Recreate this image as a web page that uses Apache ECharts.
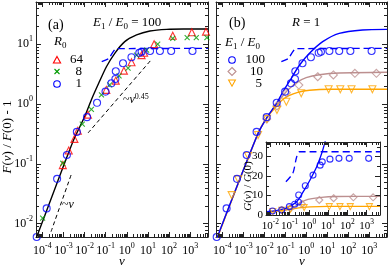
<!DOCTYPE html>
<html><head><meta charset="utf-8">
<script src="https://cdn.jsdelivr.net/npm/echarts@6/dist/echarts.min.js"></script>
<style>html,body{margin:0;padding:0;background:#fff}#c{width:390px;height:268px}</style>
</head><body><div id="c"></div>
<script>
// ---------------- tick labels ----------------
const xExponents = [-4, -3, -2, -1, 0, 1, 2, 3];
const yExponents = [-2, -1, 0, 1];
const insetXExponents = [-2, -1, 0, 1, 2, 3];
const insetYTicks = [0, 10, 20, 30];

// ---------------- panel (a) ----------------
// R0 = 1 (blue circles)  -- also E1/E0 = 100 in panel (b)
const nuCircle = [5.4e-5, 1.6e-4, 5.0e-4, 1.45e-3, 4.3e-3, 0.013, 0.039, 0.098, 0.186, 0.288, 0.30, 0.66, 1.66, 3.9, 5.0, 12.6, 37, 126, 1290];
const fCircle  = [0.006, 0.018, 0.056, 0.14, 0.34, 0.60, 1.04, 1.6, 2.2, 2.6, 3.5, 4.75, 6.0, 7.1, 7.4, 7.6, 7.6, 7.6, 7.6];
// R0 = 64 (red triangles)
const nuTri64 = [9.3e-4, 1.78e-3, 3.3e-3, 4.8e-3, 0.0145, 0.107, 0.30, 0.73, 1.67, 5.0, 6.6, 19.6, 150, 1200, 5600];
const fTri64  = [0.095, 0.166, 0.26, 0.355, 0.66, 1.71, 2.44, 3.58, 4.94, 6.5, 7.1, 9.9, 13.7, 15.6, 16.0];
// R0 = 8 (green crosses)
const nuX8 = [1.03e-4, 9.3e-4, 7.8e-3, 0.021, 0.063, 0.155, 0.43, 1.15, 2.9, 8.7, 29, 150, 720, 1950, 6200];
const fX8  = [0.0124, 0.102, 0.46, 0.81, 1.41, 2.07, 2.92, 3.93, 6.5, 7.9, 9.9, 12.4, 12.7, 12.7, 12.7];
// black solid curve
const nuCurveA = [5.2e-5, 1e-4, 3.16e-4, 1e-3, 3.16e-3, 0.01, 0.0208, 0.0465, 0.108, 0.269, 0.80, 2.9, 12.4, 77.6, 480, 7000];
const fCurveA  = [0.0058, 0.0107, 0.0313, 0.0918, 0.259, 0.61, 1.16, 2.20, 4.16, 6.97, 10.9, 14.1, 16.4, 17.5, 17.7, 17.7];
// blue dashed curve (both panels)
const nuDash = [0.0648, 0.148, 0.16, 0.276, 0.333, 7000];
const fDash  = [5.05, 5.75, 6.11, 8.13, 8.32, 8.43];
// guide lines
const nuGuide045 = [0.0145, 15.6];
const fGuide045  = [0.326, 5.62];
const nuGuide1 = [2.57e-4, 2.45e-3];
const fGuide1  = [0.00735, 0.0693];

// ---------------- panel (b) ----------------
const nuCurve100 = [5.6e-5, 5.05e-3, 0.0135, 0.040, 0.077, 0.193, 0.477, 1.42, 6.05, 37, 475, 7000];
const fCurve100  = [0.0058, 0.322, 0.596, 1.045, 1.59, 2.67, 4.45, 6.97, 10.9, 15.0, 17.1, 17.5];
const nuCurve10 = [5.6e-5, 5.05e-3, 0.0126, 0.0312, 0.0648, 0.133, 0.333, 0.99, 4.23, 37.5, 7000];
const fCurve10  = [0.0058, 0.322, 0.573, 0.895, 1.265, 1.70, 2.25, 2.73, 3.06, 3.27, 3.36];
const nuCurve5 = [5.8e-5, 5.05e-3, 0.0135, 0.0348, 0.0648, 0.148, 0.395, 1.42, 12.6, 7000];
const fCurve5  = [0.0058, 0.322, 0.596, 0.875, 1.127, 1.365, 1.556, 1.683, 1.746, 1.746];
const nuDiam10 = [0.013, 0.040, 0.112, 0.442, 3.51, 19.5, 207, 2190];
const fDiam10  = [0.56, 0.92, 1.53, 2.06, 2.83, 3.03, 3.23, 3.23];
const nuTri5 = [2.77e-4, 5.69e-4, 1.69e-3, 5.05e-3, 0.0135, 0.040, 0.112, 0.574, 11.6, 41.7, 143, 1410];
const fTri5  = [0.030, 0.055, 0.135, 0.302, 0.56, 0.789, 1.084, 1.50, 1.746, 1.746, 1.746, 1.746];

// ---------------- inset G(v)/G(0) ----------------
const nuInCircle = [0.013, 0.039, 0.098, 0.186, 0.288, 0.30, 0.66, 1.66, 3.9, 5.0, 12.6, 37, 126, 1290];
const gInCircle  = [2.05, 2.6, 4.3, 5.5, 6.7, 10.3, 15.0, 20.5, 25.6, 27.3, 28.7, 29.1, 29.1, 29.1];
const nuInDiam = [0.040, 0.112, 0.442, 3.51, 19.5, 207, 2190];
const gInDiam  = [2.5, 3.5, 5.65, 7.7, 8.6, 9.1, 9.1];
const nuInTri = [0.0135, 0.040, 0.112, 0.574, 11.6, 41.7, 143, 1410];
const gInTri  = [1.8, 2.4, 2.9, 3.8, 4.3, 4.3, 4.3, 4.3];
const nuInCurve100 = [0.006, 0.02, 0.0713, 0.236, 0.52, 1.16, 2.58, 4.7, 7.0, 9.0];
const gInCurve100  = [1.7, 2.3, 3.7, 6.8, 12.0, 18.0, 24.8, 31.7, 37.6, 42];
const nuInCurve10 = [0.006, 0.03, 0.1, 0.2, 0.35, 0.9, 4.5, 30, 5000];
const gInCurve10  = [1.4, 2.1, 3.2, 4.5, 6.2, 8.0, 9.1, 9.5, 9.6];
const nuInCurve5 = [0.006, 0.02, 0.06, 0.15, 0.4, 1.2, 10, 5000];
const gInCurve5  = [1.5, 2.0, 2.6, 3.2, 3.8, 4.2, 4.4, 4.4];
const nuInDash = [0.0648, 0.148, 0.236, 0.333, 5000];
const gInDash  = [17.1, 21.4, 29.9, 32.5, 32.5];

// ---------------- helpers ----------------
const zip = (a, b) => a.map((v, i) => [v, b[i]]);
const SERIF = 'Liberation Serif';
const BLUE = '#0000ff', RED = '#ff0000', GREEN = '#009a00', ROSY = '#bc8f8f', ORANGE = '#ffa500', AX = '#222';

function powFmt(exps) {
  return function (v) {
    const l = Math.log10(v), r = Math.round(l);
    if (Math.abs(l - r) > 1e-6 || exps.indexOf(r) < 0) return '';
    return '{b|10}{s|' + r + '}';
  };
}
function powRich(base, sup) {
  return {
    b: { fontFamily: SERIF, fontSize: base, lineHeight: base + 5, color: '#000' },
    s: { fontFamily: SERIF, fontSize: sup, lineHeight: sup, verticalAlign: 'top', color: '#000' }
  };
}
function logAxis(grid, pos, min, max, labels, exps, extra) {
  return Object.assign({
    gridIndex: grid, type: 'log', position: pos, min: min, max: max, logBase: 10,
    axisLine: { show: true, onZero: false, lineStyle: { color: AX, width: 1 } },
    axisTick: { show: true, inside: true, length: 5, lineStyle: { color: AX, width: 1 } },
    minorTick: { show: false }, splitLine: { show: false },
    axisLabel: labels ? { show: true, formatter: powFmt(exps), rich: powRich(labels[0], labels[1]), margin: labels[2], color: '#000' } : { show: false }
  }, extra || {});
}
function minorValues(min, max) {
  const out = [];
  for (let k = Math.floor(Math.log10(min)) - 1; k <= Math.ceil(Math.log10(max)); k++) {
    for (let m = 2; m <= 9; m++) {
      const v = m * Math.pow(10, k);
      if (v > min * 1.0001 && v < max * 0.9999) out.push(v);
    }
  }
  return out;
}
function minorTicks(xi, yi, xmin, xmax, ymin, ymax, doY, len) {
  const data = minorValues(xmin, xmax).map(v => [v, ymin, 0]);
  if (doY) minorValues(ymin, ymax).forEach(v => data.push([xmin, v, 1]));
  return {
    type: 'custom', xAxisIndex: xi, yAxisIndex: yi, silent: true, z: 20, animation: false,
    encode: { x: 0, y: 1 }, data: data,
    renderItem: function (params, api) {
      const cs = params.coordSys;
      const p = api.coord([api.value(0), api.value(1)]);
      const st = { stroke: AX, lineWidth: 1 };
      if (api.value(2) === 0) {
        const x = Math.round(p[0]) + 0.5, b = cs.y + cs.height, t = cs.y;
        return { type: 'group', children: [
          { type: 'line', shape: { x1: x, y1: b, x2: x, y2: b - len }, style: st },
          { type: 'line', shape: { x1: x, y1: t, x2: x, y2: t + len }, style: st }] };
      } else {
        const y = Math.round(p[1]) + 0.5, l = cs.x, r = cs.x + cs.width;
        return { type: 'group', children: [
          { type: 'line', shape: { x1: l, y1: y, x2: l + len, y2: y }, style: st },
          { type: 'line', shape: { x1: r, y1: y, x2: r - len, y2: y }, style: st }] };
      }
    }
  };
}
function line(xi, yi, nu, val, color, width, dash, z) {
  return { type: 'line', xAxisIndex: xi, yAxisIndex: yi, data: zip(nu, val), showSymbol: false, symbol: 'none',
    smooth: 0.25, silent: true, z: z || 2,
    lineStyle: { color: color, width: width, type: dash || 'solid' } };
}
function scat(xi, yi, nu, val, color, symbol, size, rotate) {
  return { type: 'scatter', xAxisIndex: xi, yAxisIndex: yi, data: zip(nu, val), symbol: symbol, symbolSize: size,
    symbolRotate: rotate || 0, silent: true, z: 5,
    itemStyle: { color: 'rgba(0,0,0,0)', borderColor: color, borderWidth: 1.1 } };
}
const CROSS = 'path://M0,0L10,10M0,10L10,0';

function txt(x, y, text, align, rich, size, rot) {
  return { type: 'text', x: x, y: y, rotation: rot || 0, silent: true, z: 30,
    style: { text: text, align: align || 'left', textAlign: align || 'left', verticalAlign: 'middle', textVerticalAlign: 'middle',
      font: (size || 13) + 'px "' + SERIF + '"', fill: '#000', rich: rich || {} } };
}
function richSet(sz) {
  return {
    i: { fontFamily: SERIF, fontStyle: 'italic', fontSize: sz, lineHeight: sz + 3, color: '#000' },
    n: { fontFamily: SERIF, fontSize: sz, lineHeight: sz + 3, color: '#000' },
    d: { fontFamily: SERIF, fontSize: Math.round(sz * 0.7), lineHeight: 8, verticalAlign: 'bottom', color: '#000' },
    u: { fontFamily: SERIF, fontSize: Math.round(sz * 0.68), lineHeight: 7, verticalAlign: 'top', color: '#000' }
  };
}
const R13 = richSet(13), R12 = richSet(12), R11 = richSet(11);

const XMIN = 5e-5, XMAX = 7000, YMIN = 0.006, YMAX = 50, IXMIN = 0.006, IXMAX = 5000, IYMAX = 37.5;

const option = {
  animation: false,
  backgroundColor: '#fff',
  grid: [
    { left: 36, top: 2, width: 172, height: 235, outerBoundsMode: 'none', containLabel: false },
    { left: 216, top: 2, width: 171, height: 235, outerBoundsMode: 'none', containLabel: false },
    { left: 266, top: 142, width: 114, height: 73, outerBoundsMode: 'none', containLabel: false, show: true, backgroundColor: '#fff', borderWidth: 0, z: 3 }
  ],
  xAxis: [
    logAxis(0, 'bottom', XMIN, XMAX, [12, 8, 5], xExponents),
    logAxis(0, 'top', XMIN, XMAX, null),
    logAxis(1, 'bottom', XMIN, XMAX, [12, 8, 5], xExponents),
    logAxis(1, 'top', XMIN, XMAX, null),
    logAxis(2, 'bottom', IXMIN, IXMAX, [11, 7.5, 3], insetXExponents, { z: 6 }),
    logAxis(2, 'top', IXMIN, IXMAX, null, null, { z: 6 })
  ],
  yAxis: [
    logAxis(0, 'left', YMIN, YMAX, [12, 8, 3], yExponents),
    logAxis(0, 'right', YMIN, YMAX, null),
    logAxis(1, 'left', YMIN, YMAX, null),
    logAxis(1, 'right', YMIN, YMAX, null),
    { gridIndex: 2, type: 'value', position: 'left', min: 0, max: IYMAX, interval: 10, z: 6,
      axisLine: { show: true, lineStyle: { color: AX, width: 1 } },
      axisTick: { show: true, inside: true, length: 5, lineStyle: { color: AX } },
      minorTick: { show: true, splitNumber: 2, length: 3, lineStyle: { color: AX } },
      splitLine: { show: false },
      axisLabel: { show: true, margin: 3, fontFamily: SERIF, fontSize: 11, color: '#000',
        formatter: v => (insetYTicks.indexOf(v) >= 0 ? String(v) : '') } },
    { gridIndex: 2, type: 'value', position: 'right', min: 0, max: IYMAX, interval: 10, z: 6,
      axisLine: { show: true, lineStyle: { color: AX, width: 1 } },
      axisTick: { show: true, inside: true, length: 5, lineStyle: { color: AX } },
      minorTick: { show: true, splitNumber: 2, length: 3, lineStyle: { color: AX } },
      splitLine: { show: false }, axisLabel: { show: false } }
  ],
  series: [
    // panel (a)
    line(0, 0, nuCurveA, fCurveA, '#000', 1.4),
    line(0, 0, nuGuide045, fGuide045, '#000', 1, [4, 3]),
    line(0, 0, nuGuide1, fGuide1, '#000', 1, [4, 3]),
    line(0, 0, nuDash, fDash, BLUE, 1.4, [7, 4]),
    scat(0, 0, nuTri64, fTri64, RED, 'triangle', 7),
    scat(0, 0, nuX8, fX8, GREEN, CROSS, 5),
    scat(0, 0, nuCircle, fCircle, BLUE, 'circle', 7),
    // panel (b)
    line(2, 2, nuCurve10, fCurve10, ROSY, 1.4),
    line(2, 2, nuCurve5, fCurve5, ORANGE, 1.4),
    line(2, 2, nuCurve100, fCurve100, BLUE, 1.4),
    line(2, 2, nuDash, fDash, BLUE, 1.4, [7, 4]),
    scat(2, 2, nuDiam10, fDiam10, ROSY, 'diamond', 8),
    scat(2, 2, nuTri5, fTri5, ORANGE, 'triangle', 7, 180),
    scat(2, 2, nuCircle, fCircle, BLUE, 'circle', 7),
    // inset
    line(4, 4, nuInCurve10, gInCurve10, ROSY, 1.3, null, 4),
    line(4, 4, nuInCurve5, gInCurve5, ORANGE, 1.3, null, 4),
    line(4, 4, nuInCurve100, gInCurve100, BLUE, 1.3, null, 4),
    line(4, 4, nuInDash, gInDash, BLUE, 1.3, [7, 4], 4),
    Object.assign(scat(4, 4, nuInDiam, gInDiam, ROSY, 'diamond', 7), { z: 6 }),
    Object.assign(scat(4, 4, nuInTri, gInTri, ORANGE, 'triangle', 6, 180), { z: 6 }),
    Object.assign(scat(4, 4, nuInCircle, gInCircle, BLUE, 'circle', 6), { z: 6 }),
    // minor ticks
    minorTicks(0, 0, XMIN, XMAX, YMIN, YMAX, true, 3),
    minorTicks(2, 2, XMIN, XMAX, YMIN, YMAX, true, 3),
    minorTicks(4, 4, IXMIN, IXMAX, 0, IYMAX, false, 3)
  ],
  graphic: [
    // axis titles
    txt(8, 137, '{i|F}{n|(}{i|ν}{n|) / }{i|F}{n|(0) - 1}', 'center', R13, 13, Math.PI / 2),
    txt(122, 262, '{i|ν}', 'center', R13),
    txt(302, 262, '{i|ν}', 'center', R13),
    txt(248, 186, '{i|G}{n|(}{i|ν}{n|) / }{i|G}{n|(0)}', 'center', R11, 11, Math.PI / 2),
    // panel (a) annotations
    txt(48, 25, '(a)', 'left', null, 14),
    txt(93, 23, '{i|E}{d|1}{n| / }{i|E}{d|0}{n| = 100}', 'left', R13),
    txt(54, 42, '{i|R}{d|0}', 'left', R13),
    { type: 'polygon', silent: true, z: 30, shape: { points: [[57, 56.5], [60.6, 63], [53.4, 63]] }, style: { fill: 'none', stroke: RED, lineWidth: 1.1 } },
    { type: 'polyline', silent: true, z: 30, shape: { points: [[54.5, 69], [59.5, 74]] }, style: { fill: 'none', stroke: GREEN, lineWidth: 1.1 } },
    { type: 'polyline', silent: true, z: 30, shape: { points: [[54.5, 74], [59.5, 69]] }, style: { fill: 'none', stroke: GREEN, lineWidth: 1.1 } },
    { type: 'circle', silent: true, z: 30, shape: { cx: 57, cy: 84, r: 3.3 }, style: { fill: 'none', stroke: BLUE, lineWidth: 1.1 } },
    txt(83, 60, '64', 'right', null, 13),
    txt(82, 72, '8', 'right', null, 13),
    txt(82, 84, '1', 'right', null, 13),
    txt(123, 100, '{n|~}{i|ν}{u|0.45}', 'left', R12),
    txt(62, 205, '{n|~}{i|ν}', 'left', R12),
    // panel (b) annotations
    txt(229, 23, '(b)', 'left', null, 14),
    txt(292, 23, '{i|R}{n| = 1}', 'left', R13),
    txt(225, 43, '{i|E}{d|1}{n| / }{i|E}{d|0}', 'left', R13),
    { type: 'circle', silent: true, z: 30, shape: { cx: 232, cy: 60, r: 3.3 }, style: { fill: 'none', stroke: BLUE, lineWidth: 1.1 } },
    { type: 'polygon', silent: true, z: 30, shape: { points: [[232, 67.5], [236, 71.5], [232, 75.5], [228, 71.5]] }, style: { fill: 'none', stroke: ROSY, lineWidth: 1.1 } },
    { type: 'polygon', silent: true, z: 30, shape: { points: [[228.6, 80], [235.4, 80], [232, 86.2]] }, style: { fill: 'none', stroke: ORANGE, lineWidth: 1.1 } },
    txt(265, 60, '100', 'right', null, 13),
    txt(263, 72, '10', 'right', null, 13),
    txt(262, 84, '5', 'right', null, 13)
  ]
};

const chart = echarts.init(document.getElementById('c'), null, { renderer: 'canvas', width: 390, height: 268 });
chart.setOption(option);
</script>
</body></html>
